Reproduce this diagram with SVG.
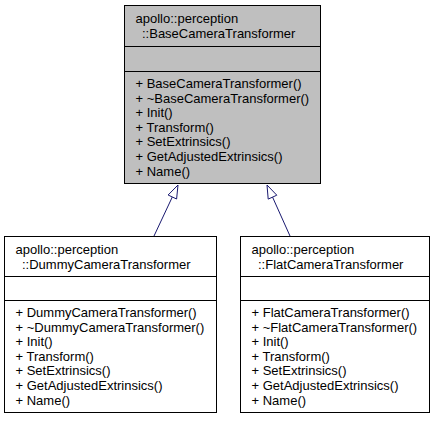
<svg xmlns="http://www.w3.org/2000/svg" width="433" height="421" viewBox="0 0 433 421">
<style>
.box{stroke:#000;stroke-width:1}
.t{font-family:"Liberation Sans",Arial,Helvetica,sans-serif;font-size:13px;fill:#000}
.e{stroke:#191970;stroke-width:1;fill:none}
.ah{stroke:#191970;stroke-width:1;fill:#fff}
</style>
<rect width="433" height="421" fill="#fff"/>
<g id="edges">
<path class="e" d="M154,236 L172.3,197"/>
<polygon class="ah" points="178,185 176.6,199 168.1,195"/>
<path class="e" d="M290,236 L272.5,197"/>
<polygon class="ah" points="267,185 276.8,195.2 268.2,199.1"/>
</g>
<g id="node_base">
<rect class="box" x="124.5" y="5.5" width="196" height="178" fill="#bfbfbf"/>
<line class="box" x1="124.5" y1="46.5" x2="320.5" y2="46.5"/>
<line class="box" x1="124.5" y1="71.5" x2="320.5" y2="71.5"/>
<text class="t" x="135.5" y="23">apollo::perception</text>
<text class="t" x="142" y="37.5">::BaseCameraTransformer</text>
<text class="t" x="135.5" y="88">+ BaseCameraTransformer()</text>
<text class="t" x="135.5" y="102.6">+ ~BaseCameraTransformer()</text>
<text class="t" x="135.5" y="117.2">+ Init()</text>
<text class="t" x="135.5" y="131.8">+ Transform()</text>
<text class="t" x="135.5" y="146.4">+ SetExtrinsics()</text>
<text class="t" x="135.5" y="161">+ GetAdjustedExtrinsics()</text>
<text class="t" x="135.5" y="175.6">+ Name()</text>
</g>
<g id="node_dummy">
<rect class="box" x="4.5" y="236.5" width="212" height="176" fill="#fff"/>
<line class="box" x1="4.5" y1="276.5" x2="216.5" y2="276.5"/>
<line class="box" x1="4.5" y1="300.5" x2="216.5" y2="300.5"/>
<text class="t" x="15.5" y="254">apollo::perception</text>
<text class="t" x="22" y="268.5">::DummyCameraTransformer</text>
<text class="t" x="15.5" y="317">+ DummyCameraTransformer()</text>
<text class="t" x="15.5" y="331.6">+ ~DummyCameraTransformer()</text>
<text class="t" x="15.5" y="346.2">+ Init()</text>
<text class="t" x="15.5" y="360.8">+ Transform()</text>
<text class="t" x="15.5" y="375.4">+ SetExtrinsics()</text>
<text class="t" x="15.5" y="390">+ GetAdjustedExtrinsics()</text>
<text class="t" x="15.5" y="404.6">+ Name()</text>
</g>
<g id="node_flat">
<rect class="box" x="240.5" y="236.5" width="189" height="176" fill="#fff"/>
<line class="box" x1="240.5" y1="276.5" x2="429.5" y2="276.5"/>
<line class="box" x1="240.5" y1="300.5" x2="429.5" y2="300.5"/>
<text class="t" x="251.5" y="254">apollo::perception</text>
<text class="t" x="258" y="268.5">::FlatCameraTransformer</text>
<text class="t" x="251.5" y="317">+ FlatCameraTransformer()</text>
<text class="t" x="251.5" y="331.6">+ ~FlatCameraTransformer()</text>
<text class="t" x="251.5" y="346.2">+ Init()</text>
<text class="t" x="251.5" y="360.8">+ Transform()</text>
<text class="t" x="251.5" y="375.4">+ SetExtrinsics()</text>
<text class="t" x="251.5" y="390">+ GetAdjustedExtrinsics()</text>
<text class="t" x="251.5" y="404.6">+ Name()</text>
</g>
</svg>
